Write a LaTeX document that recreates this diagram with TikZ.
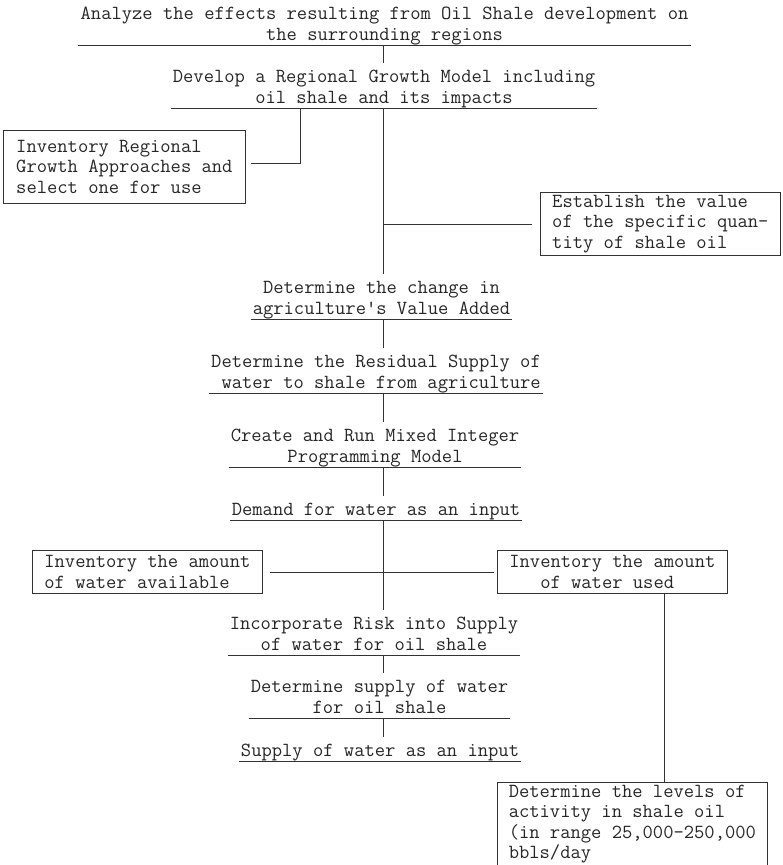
\documentclass[tikz,border=0pt]{standalone}
\usetikzlibrary{positioning}
\tikzset{
  px/.style={x=1pt, y=-1pt, font=\ttfamily\fontsize{20}{20.5}\selectfont, text=black!85},
  f step/.style={align=center, inner xsep=2pt, inner ysep=0.5pt, text depth=4pt, anchor=south},
  f box/.style={draw=black!80, line width=0.7pt, align=left, inner sep=0pt, anchor=north west},
  f open/.style={f box, draw=none},
  f rule/.style={draw=black!80, line width=0.7pt},
  f link/.style={f rule, shorten >=6.5pt},
}
\begin{document}
\begin{tikzpicture}[px]
\useasboundingbox (0,0) rectangle (782,865);
\node[f step] (s1) at (384.5,45) {Analyze the effects resulting from Oil Shale development on\\the surrounding regions};
\node[f step] (s2) at (384,108) {Develop a Regional Growth Model including\\oil shale and its impacts};
\node[f step] (s3) at (381.5,319) {Determine the change in\\agriculture's Value Added};
\node[f step] (s4) at (376,393) {Determine the Residual Supply of\\\hphantom{w}water to shale from agriculture};
\node[f step] (s5) at (375,467) {Create and Run Mixed Integer\\Programming Model};
\node[f step] (s6) at (376,520) {Demand for water as an input};
\node[f step] (s7) at (374,655) {Incorporate Risk into Supply\\of water for oil shale};
\node[f step] (s8) at (379.5,718) {Determine supply of water\\for oil shale};
\node[f step] (s9) at (380,761) {Supply of water as an input};
\node[f box, minimum width=242pt, minimum height=73pt] (inv) at (3,130) {Inventory Regional\\Growth Approaches and\\select one for use};
\node[f box, minimum width=240pt, minimum height=63pt] (val) at (540,192) {Establish the value\\of the specific quan-\\tity of shale oil};
\node[f box, minimum width=230pt, minimum height=43pt] (avl) at (32,550) {Inventory the amount\\of water available};
\node[f box, minimum width=230pt, minimum height=43pt] (use) at (497,550) {Inventory the amount\\\hphantom{www}of water used};
\node[f open, minimum width=270pt, minimum height=83pt] (lvl) at (497,782) {Determine the levels of\\activity in shale oil\\(in range 25,000-250,000\\bbls/day};
\coordinate (trunk) at (383,0); \coordinate (tapL) at (300,0); \coordinate (tapR) at (664,0);
\foreach \i in {1,...,9} \draw[f rule] (s\i.south west) -- (s\i.south east);
\foreach \a/\b in {s1/s2, s2/s3, s3/s4, s4/s5, s5/s6, s6/s7, s7/s8, s8/s9} \draw[f link] (\a.south -| trunk) -- (\b.north -| trunk);
\draw[f rule] ([xshift=5pt, yshift=4pt]inv.east) -| (s2.south -| tapL);
\draw[f rule] (val.west -| trunk) -- ([xshift=-8pt]val.west);
\draw[f rule] ([xshift=7pt]avl.east) -- (avl.east -| trunk); \draw[f rule] (use.west -| trunk) -- ([xshift=-3pt]use.west);
\draw[f rule] (use.south -| tapR) -- (lvl.north -| tapR);
\draw[f rule] (lvl.south west) -- (lvl.north west) -- (lvl.north east) -- (lvl.south east);
\end{tikzpicture}
\end{document}
